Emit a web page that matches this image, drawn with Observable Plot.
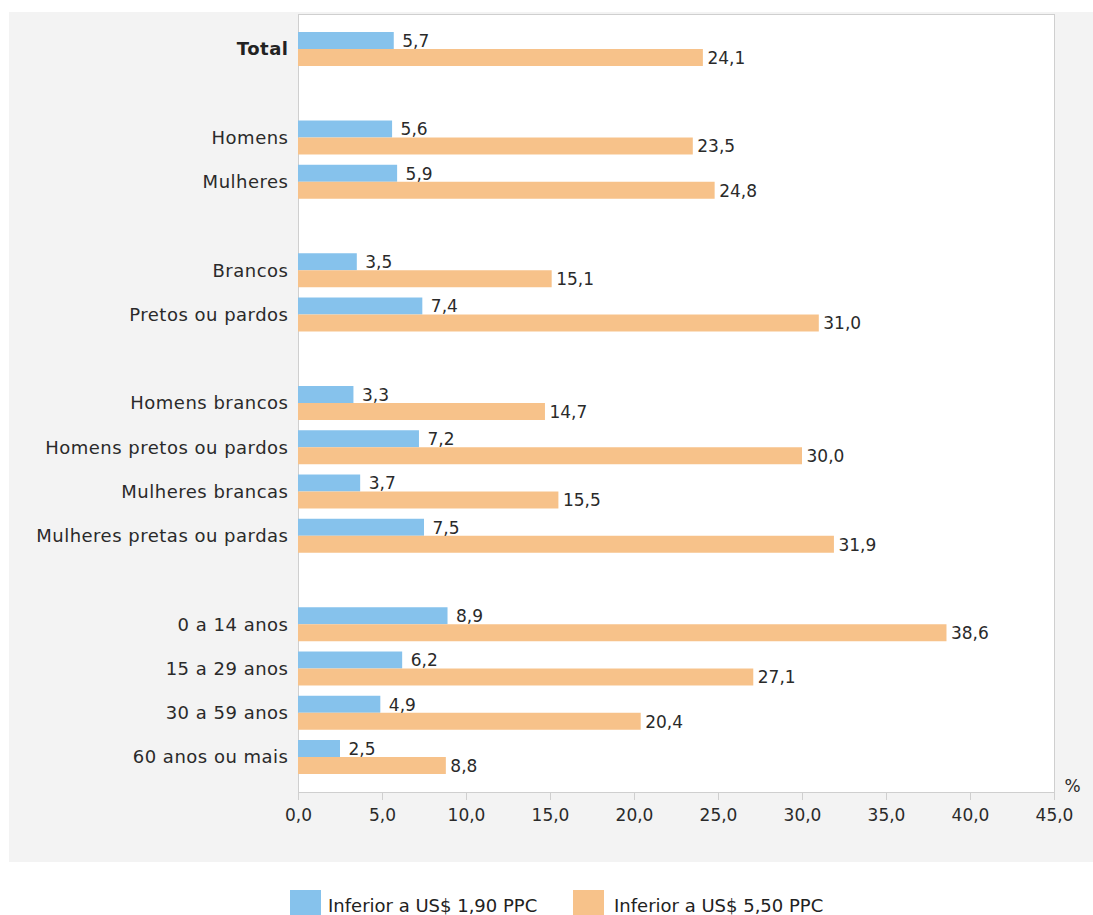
<!DOCTYPE html>
<html>
<head>
<meta charset="utf-8">
<script src="https://cdn.jsdelivr.net/npm/d3@7"></script>
<script src="https://cdn.jsdelivr.net/npm/@observablehq/plot@0.6"></script>
<style>
  html, body { margin: 0; padding: 0; background: #fff; width: 1093px; height: 915px; overflow: hidden; font-family: "DejaVu Sans", sans-serif; }
  #panel { position: absolute; left: 9px; top: 12px; width: 1084px; height: 850px; background: #f3f3f3; }
  #legend { position: absolute; left: 0; top: 890px; width: 1093px; height: 40px; }
  .sw { position: absolute; top: 0; width: 31px; height: 32px; }
  .lt { position: absolute; top: 4px; font-size: 18px; color: #222; line-height: 24px; white-space: nowrap; }
</style>
</head>
<body>
<div id="panel"></div>
<div id="legend"></div>
<script>
const categories = ["Total","Homens","Mulheres","Brancos","Pretos ou pardos","Homens brancos","Homens pretos ou pardos","Mulheres brancas","Mulheres pretas ou pardas","0 a 14 anos","15 a 29 anos","30 a 59 anos","60 anos ou mais"];
const below190 = [5.7,5.6,5.9,3.5,7.4,3.3,7.2,3.7,7.5,8.9,6.2,4.9,2.5];
const below550 = [24.1,23.5,24.8,15.1,31.0,14.7,30.0,15.5,31.9,38.6,27.1,20.4,8.8];
const seriesNames = ["Inferior a US$ 1,90 PPC","Inferior a US$ 5,50 PPC"];
const seriesColors = ["#86c2ec","#f7c28a"];
const xTicks = [0,5,10,15,20,25,30,35,40,45];
// row slots including blank separators between groups
const slots = ["Total","gap1","Homens","Mulheres","gap2","Brancos","Pretos ou pardos","gap3","Homens brancos","Homens pretos ou pardos","Mulheres brancas","Mulheres pretas ou pardas","gap4","0 a 14 anos","15 a 29 anos","30 a 59 anos","60 anos ou mais"];

const fmt = v => d3.format(".1f")(v).replace(".", ",");
const rows = categories.map((c, i) => ({cat: c, a: below190[i], b: below550[i]}));

const chart = Plot.plot({
  width: 1084,
  height: 850,
  marginLeft: 289,
  marginRight: 39,
  marginTop: 2,
  marginBottom: 70,
  style: {background: "transparent", fontFamily: "DejaVu Sans, sans-serif", fontSize: "17px", color: "#333"},
  x: {domain: [0, 45], label: null},
  y: {domain: slots, paddingInner: 0.232, paddingOuter: 0.407, round: false, label: null},
  marks: [
    Plot.frame({fill: "white", stroke: "#cfcfcf"}),
    Plot.barX(rows, {x: "a", y: "cat", fill: seriesColors[0], insetBottom: 17, insetTop: 0}),
    Plot.barX(rows, {x: "b", y: "cat", fill: seriesColors[1], insetTop: 17, insetBottom: 0}),
    Plot.text(rows, {x: "a", y: "cat", text: d => fmt(d.a), dx: 8, dy: -8, textAnchor: "start", fill: "#2a2a2a", fontSize: 17}),
    Plot.text(rows, {x: "b", y: "cat", text: d => fmt(d.b), dx: 4, dy: 9, textAnchor: "start", fill: "#2a2a2a", fontSize: 17}),
    Plot.axisX({ticks: xTicks, tickFormat: fmt, tickSize: 8, tickPadding: 8, stroke: "#cfcfcf", fill: "#2a2a2a", fontSize: 17, label: null}),
    Plot.axisY({ticks: categories.slice(1), tickSize: 0, tickPadding: 10, fill: "#2a2a2a", fontSize: 18, label: null}),
    Plot.axisY({ticks: ["Total"], tickSize: 0, tickPadding: 10, fill: "#222", fontSize: 18, fontWeight: "bold", label: null}),
    Plot.text(["%"], {x: () => 45, frameAnchor: "bottom", dx: 18, dy: -1, textAnchor: "middle", fill: "#2a2a2a", fontSize: 17})
  ]
});
chart.style.position = "absolute";
chart.style.left = "0px";
chart.style.top = "0px";
d3.select(chart).selectAll('g[aria-label="y-axis tick label"]').style("letter-spacing", "0.5px");
document.getElementById("panel").appendChild(chart);

const legend = document.getElementById("legend");
const legendPos = [[290, 328], [573, 614]];
seriesNames.forEach((name, i) => {
  const sw = document.createElement("div");
  sw.className = "sw";
  sw.style.left = legendPos[i][0] + "px";
  sw.style.background = seriesColors[i];
  legend.appendChild(sw);
  const t = document.createElement("div");
  t.className = "lt";
  t.style.left = legendPos[i][1] + "px";
  t.textContent = name;
  legend.appendChild(t);
});
</script>
</body>
</html>
